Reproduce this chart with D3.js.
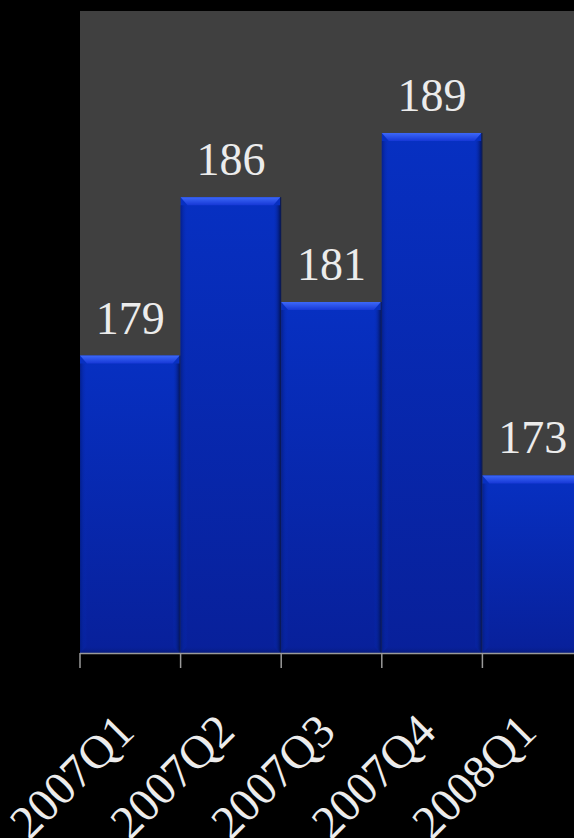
<!DOCTYPE html>
<html><head><meta charset="utf-8">
<script src="https://cdn.jsdelivr.net/npm/d3@7"></script>
<style>html,body{margin:0;padding:0;background:#000;}svg{display:block;}
text{font-family:"Liberation Serif","Times New Roman",Times,serif;}</style>
</head><body>
<script>
const categories = ["2007Q1","2007Q2","2007Q3","2007Q4","2008Q1"];
const values = [178.6, 186, 181.1, 189, 173];
const yDomain = [164.7, 194.7];

const W = 574, H = 838;
const m = {left:80, top:11, right:-9, bottom:185};
const svg = d3.select("body").append("svg").attr("width",W).attr("height",H);
svg.append("rect").attr("width",W).attr("height",H).attr("fill","#000");

const x = d3.scaleBand().domain(categories).range([m.left, W - m.right]).padding(0);
const y = d3.scaleLinear().domain(yDomain).range([H - m.bottom, m.top]);

const defs = svg.append("defs");
const g1 = defs.append("linearGradient").attr("id","body").attr("x1",0).attr("y1",0).attr("x2",0).attr("y2",1);
g1.append("stop").attr("offset","0%").attr("stop-color","#0730c2");
g1.append("stop").attr("offset","100%").attr("stop-color","#08209a");
const g2 = defs.append("linearGradient").attr("id","topb").attr("x1",0).attr("y1",0).attr("x2",0).attr("y2",1);
g2.append("stop").attr("offset","0%").attr("stop-color","#3d68f8");
g2.append("stop").attr("offset","100%").attr("stop-color","#1638d6");
const gl = defs.append("linearGradient").attr("id","leftb").attr("x1",0).attr("y1",0).attr("x2",1).attr("y2",0);
gl.append("stop").attr("offset","0%").attr("stop-color","#041c80").attr("stop-opacity",0.8);
gl.append("stop").attr("offset","100%").attr("stop-color","#0730c2").attr("stop-opacity",0);
const gr = defs.append("linearGradient").attr("id","rightb").attr("x1",1).attr("y1",0).attr("x2",0).attr("y2",0);
gr.append("stop").attr("offset","0%").attr("stop-color","#02145e").attr("stop-opacity",0.95);
gr.append("stop").attr("offset","100%").attr("stop-color","#0730c2").attr("stop-opacity",0);
const gb = defs.append("linearGradient").attr("id","botb").attr("x1",0).attr("y1",1).attr("x2",0).attr("y2",0);
gb.append("stop").attr("offset","0%").attr("stop-color","#061a78").attr("stop-opacity",0.9);
gb.append("stop").attr("offset","100%").attr("stop-color","#08209a").attr("stop-opacity",0);

// plot area
svg.append("rect").attr("x",m.left).attr("y",m.top)
  .attr("width",W - m.right - m.left).attr("height",y(yDomain[0]) - m.top).attr("fill","#404040");

const data = categories.map((c,i)=>({c, v:values[i]}));
const bev = 8, sb = 7;
const bars = svg.append("g").selectAll("g").data(data).join("g");
bars.each(function(d){
  const g = d3.select(this);
  const x0 = x(d.c), x1 = x(d.c) + x.bandwidth() - 1;
  const y0 = y(d.v), y1 = y(yDomain[0]);
  g.append("rect").attr("x",x0).attr("y",y0).attr("width",x1-x0).attr("height",y1-y0).attr("fill","url(#body)");
  g.append("polygon").attr("points",[[x0,y0+bev],[x0+sb,y0+bev],[x0+sb,y1-sb],[x0,y1]].join(" ")).attr("fill","url(#leftb)");
  g.append("polygon").attr("points",[[x1,y0+bev],[x1-sb,y0+bev],[x1-sb,y1-sb],[x1,y1]].join(" ")).attr("fill","url(#rightb)");
  g.append("polygon").attr("points",[[x0,y1],[x0+sb,y1-sb],[x1-sb,y1-sb],[x1,y1]].join(" ")).attr("fill","url(#botb)");
  g.append("polygon").attr("points",[[x0,y0],[x1,y0],[x1-sb,y0+bev],[x0+sb,y0+bev]].join(" ")).attr("fill","url(#topb)");
  g.append("line").attr("x1",x1+0.5).attr("x2",x1+0.5).attr("y1",y0).attr("y2",y1).attr("stroke","#031457").attr("stroke-width",1);
});

// value labels
svg.append("g").selectAll("text").data(data).join("text")
  .attr("x",d=>x(d.c)+x.bandwidth()/2)
  .attr("y",d=>y(d.v)-22)
  .attr("text-anchor","middle")
  .style("font-family","'Liberation Serif','Times New Roman',Times,serif")
  .attr("font-size",46)
  .attr("fill","#ececec")
  .text(d=>d3.format(".0f")(d.v));

// x axis
const ax = svg.append("g").attr("transform",`translate(0,${y(yDomain[0])})`);
ax.append("line").attr("x1",m.left).attr("x2",W).attr("y1",0.5).attr("y2",0.5).attr("stroke","#9a9a9a").attr("stroke-width",1.5);
ax.selectAll("line.tick").data(categories).join("line").attr("class","tick")
  .attr("x1",d=>x(d)).attr("x2",d=>x(d)).attr("y1",0).attr("y2",15)
  .attr("stroke","#9a9a9a").attr("stroke-width",1.5);
ax.selectAll("text").data(categories).join("text")
  .attr("transform",d=>`translate(${x(d)+x.bandwidth()/2+6},81) rotate(-45)`)
  .attr("text-anchor","end")
  .style("font-family","'Liberation Serif','Times New Roman',Times,serif")
  .attr("font-size",47)
  .attr("fill","#ececec")
  .text(d=>d);
</script>
</body></html>
